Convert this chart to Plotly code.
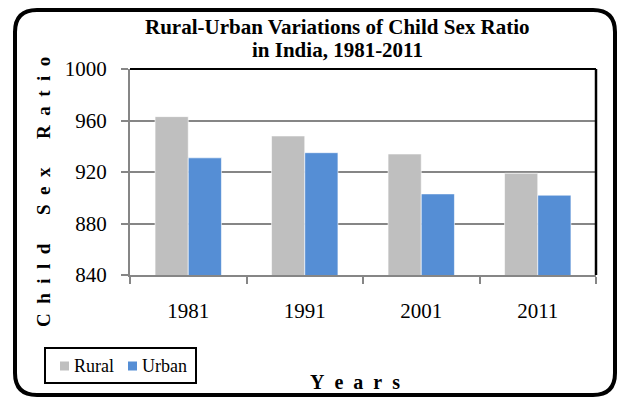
import plotly.graph_objects as go

years = ["1981", "1991", "2001", "2011"]
rural = [963, 948, 934, 919]
urban = [931, 935, 903, 902]
y_ticks = [840, 880, 920, 960, 1000]
series_names = ["Rural", "Urban"]
series_colors = ["#BFBFBF", "#558ED5"]

W, H = 622, 398
L, R, T, B = 130, 596, 69, 275  # plot area in px

def px_x(p):
    return (p - L) / (R - L)

def px_y(p):
    return (B - p) / (B - T)

FONT = "Liberation Serif, Times New Roman, serif"

fig = go.Figure()
for name, vals, col in zip(series_names, [rural, urban], series_colors):
    fig.add_trace(go.Bar(name=name, x=years, y=vals,
                         marker=dict(color=col, line=dict(color="white", width=0.6))))

fig.update_layout(
    width=W, height=H,
    margin=dict(l=L, r=W - R, t=T, b=H - B, pad=0),
    paper_bgcolor="white", plot_bgcolor="white",
    barmode="group", bargap=0.43, bargroupgap=0,
    font=dict(family=FONT, color="black", size=21),
    showlegend=False,
    xaxis=dict(type="category", showline=True, linecolor="#868686", linewidth=2,
               ticks="outside", tickson="boundaries", ticklen=7, tickcolor="#868686", tickwidth=2,
               showgrid=False, ticklabelstandoff=16, tickfont=dict(size=21, family=FONT, color="black")),
    yaxis=dict(range=[840, 1000], tickvals=y_ticks, showline=True, linecolor="#868686", linewidth=2,
               ticks="outside", ticklen=7, tickcolor="#868686", tickwidth=2,
               showgrid=True, gridcolor="#868686", gridwidth=1.5, zeroline=False,
               ticklabelstandoff=10, tickfont=dict(size=21, family=FONT, color="black")),
)

sp = "\u00a0\u00a0"
wsp = "\u00a0\u00a0\u00a0\u00a0\u00a0\u00a0"
ytitle = wsp.join(sp.join(w) for w in ["Child", "Sex", "Ratio"])
xtitle = sp.join("Years")

ann = [
    dict(text="<b>Rural-Urban Variations of Child Sex Ratio</b>", x=px_x(337), y=px_y(27),
         font=dict(size=21, family=FONT)),
    dict(text="<b>in India, 1981-2011</b>", x=px_x(337), y=px_y(50), font=dict(size=21, family=FONT)),
    dict(text="<b>" + ytitle + "</b>", x=px_x(43), y=px_y(192), textangle=-90, font=dict(size=19, family=FONT)),
    dict(text="<b>" + xtitle + "</b>", x=px_x(355), y=px_y(382), font=dict(size=20, family=FONT)),
]
for a in ann:
    a.update(xref="paper", yref="paper", showarrow=False, xanchor="center", yanchor="middle")

# legend (box, swatches, labels)
leg_y = 366
leg_items = [(60, 72), (128, 140)]  # swatch x start, text x start
shapes = []
for (sx, tx), name, col in zip(leg_items, series_names, series_colors):
    shapes.append(dict(type="rect", xref="paper", yref="paper", x0=px_x(sx), x1=px_x(sx + 9),
                       y0=px_y(leg_y - 4.5), y1=px_y(leg_y + 4.5), fillcolor=col, line=dict(width=0)))
    ann.append(dict(text=name, x=px_x(tx), y=px_y(leg_y), xref="paper", yref="paper", showarrow=False,
                    xanchor="left", yanchor="middle", font=dict(size=18, family=FONT, color="black")))
shapes.append(dict(type="rect", xref="paper", yref="paper", x0=px_x(45), x1=px_x(196),
                   y0=px_y(348), y1=px_y(383), line=dict(color="black", width=2)))
fig.update_layout(annotations=ann)

# outer rounded border
x0, x1, y0, y1, r = 15, 615, 10, 395, 22
def P(x, y):
    return f"{px_x(x):.5f},{px_y(y):.5f}"
path = (f"M {P(x0 + r, y0)} L {P(x1 - r, y0)} Q {P(x1, y0)} {P(x1, y0 + r)} "
        f"L {P(x1, y1 - r)} Q {P(x1, y1)} {P(x1 - r, y1)} "
        f"L {P(x0 + r, y1)} Q {P(x0, y1)} {P(x0, y1 - r)} "
        f"L {P(x0, y0 + r)} Q {P(x0, y0)} {P(x0 + r, y0)} Z")
shapes += [
    dict(type="path", path=path, xref="paper", yref="paper", line=dict(color="black", width=4)),
    dict(type="line", xref="paper", yref="paper", x0=0, x1=1, y0=1, y1=1, line=dict(color="black", width=2)),
    dict(type="line", xref="paper", yref="paper", x0=1, x1=1, y0=0, y1=1, line=dict(color="black", width=2.5)),
]
fig.update_layout(shapes=shapes)

fig.write_html("out.html")
